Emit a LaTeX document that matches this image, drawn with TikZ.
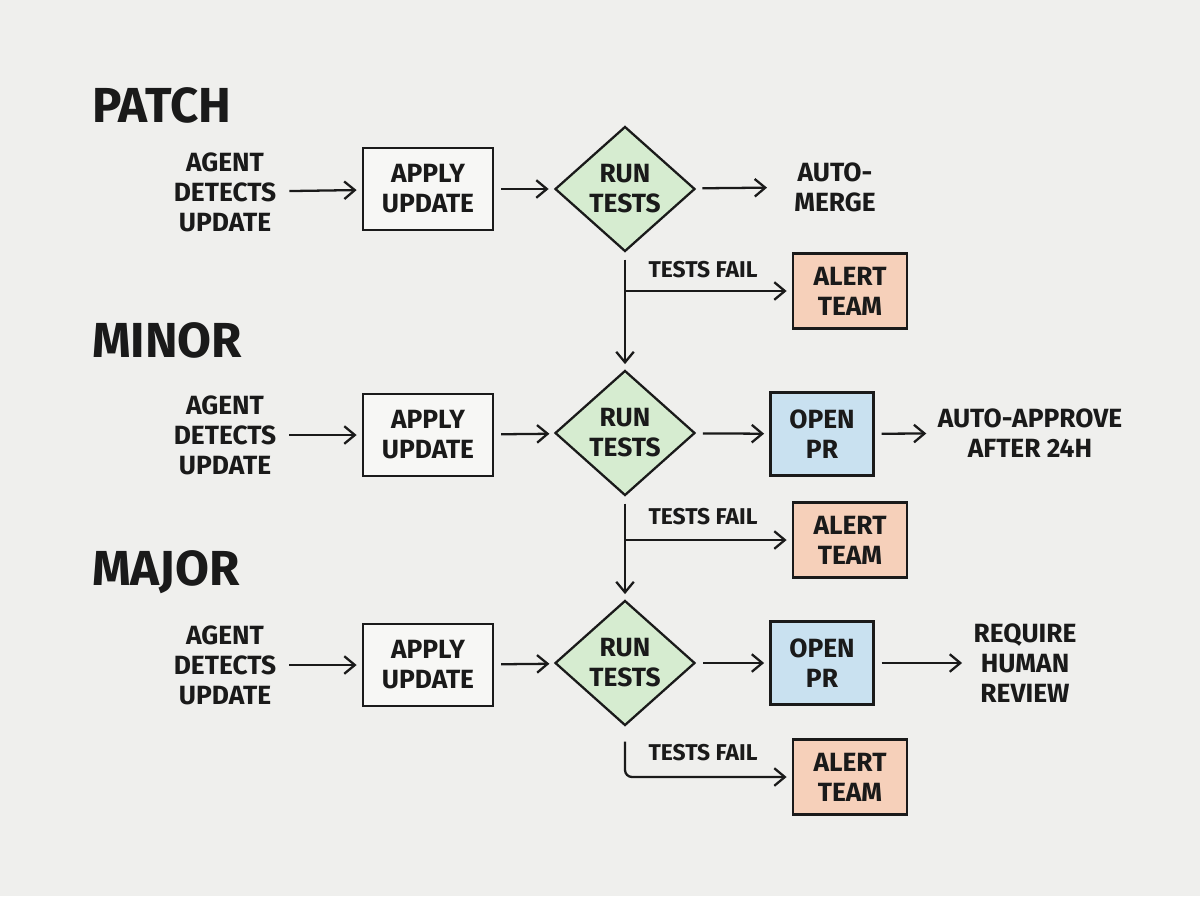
\documentclass[tikz,border=0pt]{standalone}
\usepackage{fontspec}
\setmainfont{Fira Sans}
\usetikzlibrary{shapes.geometric,arrows.meta}
\definecolor{bg}{HTML}{EFEFED}
\definecolor{gfill}{HTML}{D6ECD0}
\definecolor{ofill}{HTML}{F6D0BA}
\definecolor{bfill}{HTML}{C9E1F0}
\definecolor{wfill}{HTML}{F7F7F5}
\definecolor{ink}{HTML}{1A1A1A}
\tikzset{
 x=0.02cm,y=-0.02cm,
 every node/.style={font=\fontsize{15}{17}\selectfont\bfseries, text=ink, align=center},
 title/.style={font=\fontsize{28}{30}\selectfont\bfseries, anchor=west},
 wbox/.style={draw=ink, line width=1.3pt, fill=wfill, minimum width=2.6cm, minimum height=1.64cm},
 obox/.style={draw=ink, line width=1.3pt, fill=ofill, minimum width=2.28cm, minimum height=1.5cm},
 pbox/.style={draw=ink, line width=1.3pt, fill=bfill, minimum width=2.06cm, minimum height=1.66cm},
 dia/.style={diamond, draw=ink, line width=1.3pt, fill=gfill, minimum width=2.8cm, minimum height=2.5cm, inner sep=0pt},
 arr/.style={-{Straight Barb[length=6pt,width=10pt]}, line width=1.3pt, draw=ink, shorten <=4pt, shorten >=3pt},
 ln/.style={line width=1.3pt, draw=ink},
 lbl/.style={font=\fontsize{13}{15}\selectfont\bfseries}
}
\begin{document}
\begin{tikzpicture}
\fill[bg] (0,0) rectangle (1200,896);
\useasboundingbox (0,0) rectangle (1200,896);
\node[title] (t1) at (86,105) {PATCH};
\node[title] (t2) at (86,340) {MINOR};
\node[title] (t3) at (86,572) {MAJOR};
% row 1
\node (a1) at (225,192) {AGENT\\DETECTS\\UPDATE};
\node[wbox] (b1) at (428,189) {APPLY\\UPDATE};
\node[dia] (d1) at (625,189) {RUN\\TESTS};
\node (m1) at (835,187) {AUTO-\\MERGE};
\draw[arr] (a1) -- (b1);
\draw[arr] (b1) -- (d1);
\draw[arr, shorten >=12pt] (d1) -- (m1);
\node[obox] (f1) at (850,291) {ALERT\\TEAM};
\node[lbl] (l1) at (703,270) {TESTS FAIL};
% row 2
\node (a2) at (225,435) {AGENT\\DETECTS\\UPDATE};
\node[wbox] (b2) at (428,435) {APPLY\\UPDATE};
\node[dia] (d2) at (625,433) {RUN\\TESTS};
\node[pbox] (p2) at (822,434) {OPEN\\PR};
\node (m2) at (1030,433) {AUTO-APPROVE\\AFTER 24H};
\draw[arr] (a2) -- (b2);
\draw[arr] (b2) -- (d2);
\draw[arr] (d2) -- (p2);
\draw[arr] (p2) -- (m2);
\node[obox] (f2) at (850,540) {ALERT\\TEAM};
\node[lbl] (l2) at (703,517) {TESTS FAIL};
% row 3
\node (a3) at (225,665) {AGENT\\DETECTS\\UPDATE};
\node[wbox] (b3) at (428,665) {APPLY\\UPDATE};
\node[dia] (d3) at (625,663) {RUN\\TESTS};
\node[pbox] (p3) at (822,663) {OPEN\\PR};
\node (m3) at (1025,663) {REQUIRE\\HUMAN\\REVIEW};
\draw[arr] (a3) -- (b3);
\draw[arr] (b3) -- (d3);
\draw[arr] (d3) -- (p3);
\draw[arr] (p3) -- (m3);
\node[obox] (f3) at (850,777) {ALERT\\TEAM};
\node[lbl] (l3) at (703,753) {TESTS FAIL};
% branches
\draw[arr] (d1.south) -- (d2.north);
\draw[arr, shorten <=0pt] (d1.south|-f1.west) -- (f1.west);
\draw[arr] (d2.south) -- (d3.north);
\draw[arr, shorten <=0pt] (d2.south|-f2.west) -- (f2.west);
\draw[arr, rounded corners=4pt] (d3.south) ++(0,8) -- (d3.south|-f3.west) -- (f3.west);
\end{tikzpicture}
\end{document}
